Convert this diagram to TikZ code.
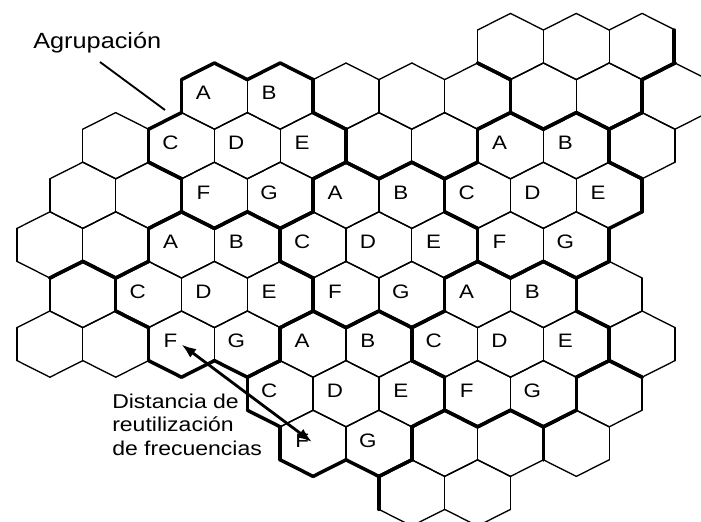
\documentclass[tikz,border=0pt]{standalone}
\usepackage{fontspec}
\setmainfont{Liberation Sans}
\newfontfamily\lblfont[FakeStretch=1.15]{Liberation Sans}
\usetikzlibrary{arrows.meta}
\newif\ifhxthick
\newcommand\hxedge[7]{%
  \pgfmathtruncatemacro\hxnr{#1+(#4)}%
  \pgfmathtruncatemacro\hxnj{#2+(#5)}%
  \ifcsname hx-\hxnr-\hxnj\endcsname
    \ifnum\csname hx-\hxnr-\hxnj\endcsname=#3\relax\hxthickfalse\else\hxthicktrue\fi
  \else
    \ifnum#3<7\relax\hxthicktrue\else\hxthickfalse\fi
  \fi
  \ifhxthick\draw[thickln] #6 -- #7;\else\draw[thinln] #6 -- #7;\fi
}
\def\hxcells{0/15/8,0/17/8,0/19/8,
1/6/1,1/8/1,1/10/7,1/12/7,1/14/7,1/16/8,1/18/8,1/20/9,
2/3/11,2/5/1,2/7/1,2/9/1,2/11/7,2/13/7,2/15/3,2/17/3,2/19/9,
3/2/11,3/4/11,3/6/1,3/8/1,3/10/2,3/12/2,3/14/3,3/16/3,3/18/3,
4/1/11,4/3/11,4/5/4,4/7/4,4/9/2,4/11/2,4/13/2,4/15/3,4/17/3,
5/2/12,5/4/4,5/6/4,5/8/4,5/10/2,5/12/2,5/14/6,5/16/6,5/18/10,
6/1/12,6/3/12,6/5/4,6/7/4,6/9/5,6/11/5,6/13/6,6/15/6,6/17/6,6/19/10,
7/8/5,7/10/5,7/12/5,7/14/6,7/16/6,7/18/13,
8/9/5,8/11/5,8/13/14,8/15/14,8/17/13,
9/12/14,9/14/14}
\def\hxlabels{1/6/A,1/8/B,2/5/C,2/7/D,2/9/E,3/6/F,3/8/G,
3/10/A,3/12/B,4/9/C,4/11/D,4/13/E,5/10/F,5/12/G,
2/15/A,2/17/B,3/14/C,3/16/D,3/18/E,4/15/F,4/17/G,
4/5/A,4/7/B,5/4/C,5/6/D,5/8/E,6/5/F,6/7/G,
6/9/A,6/11/B,7/8/C,7/10/D,7/12/E,8/9/F,8/11/G,
5/14/A,5/16/B,6/13/C,6/15/D,6/17/E,7/14/F,7/16/G}
\tikzset{
  thinln/.style={line width=1.0pt, line cap=round},
  thickln/.style={line width=2.6pt, line cap=round},
  lbl/.style={inner sep=0pt, font=\lblfont\fontsize{14.6pt}{17pt}\selectfont},
  txt/.style={inner sep=0pt, anchor=base west, font=\lblfont\fontsize{15pt}{18pt}\selectfont},
  ptr/.style={line width=1.4pt},
  arr/.style={line width=2.1pt, {Latex[length=11pt,width=8pt]}-{Latex[length=11pt,width=8pt]}}
}
\begin{document}
\begin{tikzpicture}[x=0.75pt,y=-0.75pt]
\useasboundingbox (0,0) rectangle (701,522);
\fill[white] (0,0) rectangle (701,522);
\clip (0,0) rectangle (701,522);
% register cells (cluster ids; 1-6 are the lettered clusters)
\foreach \rr/\jj/\kk in \hxcells {\expandafter\xdef\csname hx-\rr-\jj\endcsname{\kk}}
\expandafter\xdef\csname hx-9-10\endcsname{16}
% hexagon edges
\foreach \rr/\jj/\kk in \hxcells {
  \pgfmathsetmacro\cx{17+32.9*\jj}
  \pgfmathsetmacro\cy{46.5+49.6*\rr}
  \hxedge{\rr}{\jj}{\kk}{-1}{1}{(\cx,\cy-33.1)}{(\cx+32.9,\cy-16.5)}
  \hxedge{\rr}{\jj}{\kk}{0}{2}{(\cx+32.9,\cy-16.5)}{(\cx+32.9,\cy+16.5)}
  \hxedge{\rr}{\jj}{\kk}{1}{1}{(\cx+32.9,\cy+16.5)}{(\cx,\cy+33.1)}
  \hxedge{\rr}{\jj}{\kk}{1}{-1}{(\cx,\cy+33.1)}{(\cx-32.9,\cy+16.5)}
  \hxedge{\rr}{\jj}{\kk}{0}{-2}{(\cx-32.9,\cy+16.5)}{(\cx-32.9,\cy-16.5)}
  \hxedge{\rr}{\jj}{\kk}{-1}{-1}{(\cx-32.9,\cy-16.5)}{(\cx,\cy-33.1)}
}
% right side of the top-right cell
\coordinate (tr1) at (674.1,30.0);
\coordinate (tr2) at (674.1,63.0);
\draw[thickln] (tr1) -- (tr2);
% cell letters
\foreach \rr/\jj/\tt in \hxlabels {
  \node[lbl] (L\rr-\jj) at ({17+32.9*\jj-11},{46.5+49.6*\rr-3}) {\tt};
}
% annotations
\node[txt, font=\lblfont\fontsize{16.5pt}{19pt}\selectfont] (agr) at (33,48.3) {Agrupación};
\coordinate (agrA) at (100,62);
\coordinate (agrB) at (165,110);
\draw[ptr] (agrA) -- (agrB);
\node[txt] (dist1) at (112,408.3) {Distancia de};
\node[txt] (dist2) at (112,431.7) {reutilización};
\node[txt] (dist3) at (112,455) {de frecuencias};
\coordinate (fa) at (181.5,344.5);
\coordinate (fb) at (312,442);
\draw[arr] (fa) -- (fb);
\end{tikzpicture}
\end{document}
